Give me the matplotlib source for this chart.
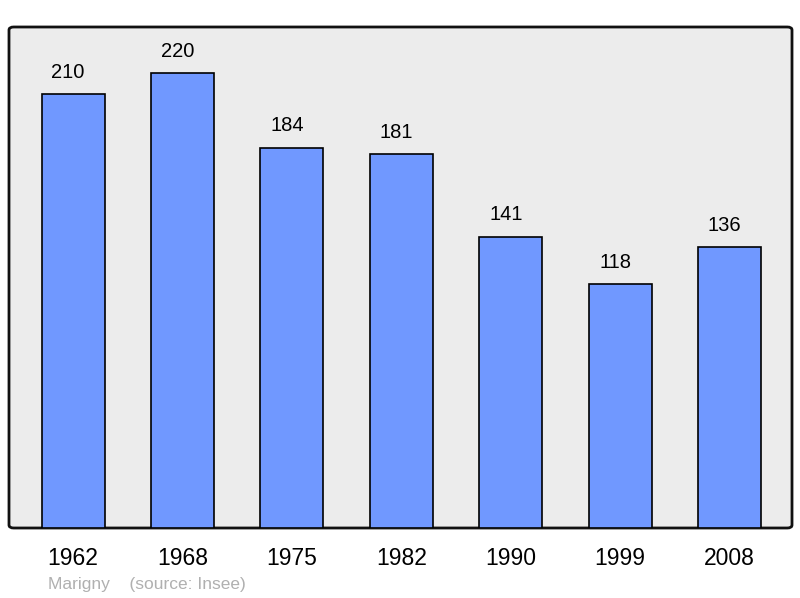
import matplotlib.pyplot as plt
from matplotlib.patches import FancyBboxPatch

years = ["1962", "1968", "1975", "1982", "1990", "1999", "2008"]
population = [210, 220, 184, 181, 141, 118, 136]

plt.rcParams["font.family"] = ["Liberation Sans", "DejaVu Sans"]

fig = plt.figure(figsize=(8.0, 5.98), dpi=100)
ax = fig.add_axes([9 / 800, 1 - 528 / 598, 783 / 800, 501 / 598])
ax.set_facecolor("none")

# rounded grey panel with dark border
panel = FancyBboxPatch((0, 0), 1, 1, boxstyle="round,pad=0,rounding_size=0.006",
                       transform=ax.transAxes, facecolor="#ececec", edgecolor="#111111",
                       linewidth=2, zorder=0, clip_on=False)
ax.add_patch(panel)

x = range(len(years))
ax.bar(x, population, width=0.576, color="#7098ff", edgecolor="black", linewidth=1.2, zorder=2)
for xi, v in zip(x, population):
    ax.text(xi - 0.045, v + 6, str(v), ha="center", va="bottom", fontsize=14.5, zorder=3)

ax.set_xlim(-0.585, 6.57)
ax.set_ylim(0, 242.4)
ax.set_xticks(list(x))
ax.set_xticklabels(years, fontsize=16.5)
ax.tick_params(axis="x", length=0, pad=14)
ax.set_yticks([])
for s in ax.spines.values():
    s.set_visible(False)

fig.text(48 / 800, 1 - 584 / 598, "Marigny    (source: Insee)", fontsize=12.5,
         color="#b0b0b0", va="center", ha="left")

fig.savefig("out.png", dpi=100)
